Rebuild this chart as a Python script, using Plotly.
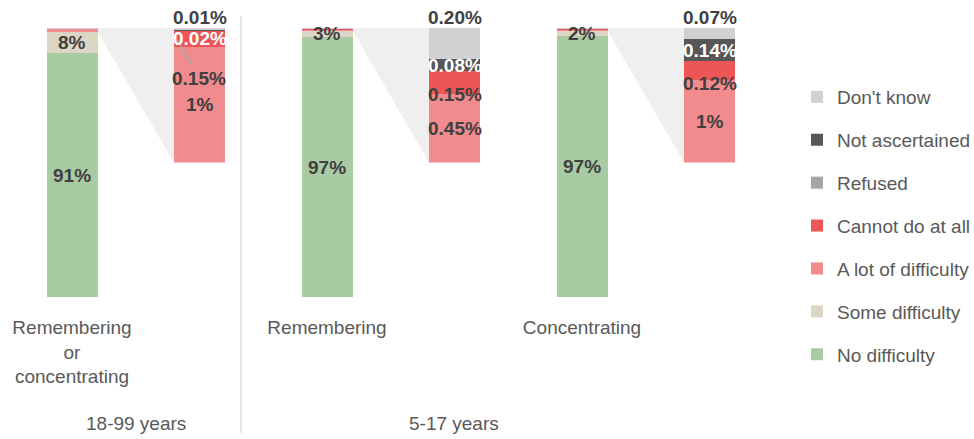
import plotly.graph_objects as go

# ---------------- data ----------------
categories = ["Remembering<br>or<br>concentrating", "Remembering", "Concentrating"]
age_groups = ["18-99 years", "5-17 years"]

no_difficulty = [90.7, 96.55, 96.9]
some_difficulty = [7.96, 2.6, 2.2]
a_lot = [1.10, 0.45, 0.52]
cannot_do = [0.15, 0.15, 0.12]
refused = [0.0, 0.0, 0.0]
not_ascertained = [0.02, 0.08, 0.14]
dont_know = [0.01, 0.20, 0.07]

series_names = ["No difficulty", "Some difficulty", "A lot of difficulty", "Cannot do at all",
                "Refused", "Not ascertained", "Don't know"]
series_values = [no_difficulty, some_difficulty, a_lot, cannot_do, refused, not_ascertained, dont_know]
colors = ["#A9CBA4", "#DCD6C4", "#F28B8D", "#EE5557", "#A6A6A6", "#575757", "#D0D1D3"]
small_idx = [2, 3, 4, 5, 6]  # series shown in the magnified bars
labelled_main = [0, 1]       # series labelled on the main bars

# ---------------- layout constants ----------------
W, H = 974, 439
BOLD = "Liberation Sans Narrow, Arial Narrow, Liberation Sans, Arial"
REG = "Liberation Sans, Arial"
LABEL_C = "#404040"
TEXT_C = "#595959"
BAR_W = 0.2
ZOOM_OFF = 0.5
MAIN_DOM = [(H - 297) / H, (H - 28) / H]
ZOOM_BASE = 50.0  # magnified bar starts halfway up the main axis
ZOOM_DOM = [MAIN_DOM[0] + (MAIN_DOM[1] - MAIN_DOM[0]) * ZOOM_BASE / 100, MAIN_DOM[1]]
LBL_SIZE = 19


def fmt(v):
    return f"{v:.0f}%" if v >= 0.5 else f"{v:.2f}%"


fig = go.Figure()
xs_main = list(range(len(categories)))
n_series = len(series_names)
ann = []

# main stacked bars
for k, (name, vals, col) in enumerate(zip(series_names, series_values, colors)):
    fig.add_trace(go.Bar(
        x=xs_main, y=vals, width=BAR_W, name=name, marker=dict(color=col, line=dict(width=0)),
        legendgroup=name, showlegend=True, legendrank=n_series - k,
        xaxis="x", yaxis="y", hoverinfo="name+y",
    ))

# labels on main bars (drawn above all segments)
for g in xs_main:
    cum = 0.0
    for k in range(n_series):
        v = series_values[k][g]
        if k in labelled_main:
            ann.append(dict(xref="x", yref="y", x=g, y=cum + v / 2, text=fmt(v), showarrow=False,
                            font=dict(family=BOLD, size=LBL_SIZE, weight="bold", color=LABEL_C)))
        cum += v

# magnified bars (one y axis each)
# label pixel shifts (positive = up) for crowded labels
shifts = {(0, 5): -8, (1, 3): -12, (1, 5): -1, (2, 3): -13}
for g in range(len(categories)):
    yax = f"y{g + 2}"
    total = sum(series_values[k][g] for k in small_idx)
    cum = 0.0
    for k in small_idx:
        v = series_values[k][g]
        fig.add_trace(go.Bar(
            x=[g + ZOOM_OFF], y=[v], width=BAR_W, name=series_names[k],
            marker=dict(color=colors[k], line=dict(width=0)), legendgroup=series_names[k],
            showlegend=False, xaxis="x", yaxis=yax, hoverinfo="name+y",
        ))
        if v > 0:
            base_ann = dict(xref="x", yref=yax, x=g + ZOOM_OFF, text=fmt(v), showarrow=False,
                            font=dict(family=BOLD, size=LBL_SIZE, weight="bold",
                                      color="white" if series_names[k] == "Not ascertained" else LABEL_C))
            if series_names[k] == "Don't know":
                base_ann.update(y=cum + v, yanchor="bottom", yshift=-2)
            elif g == 0 and series_names[k] == "Cannot do at all":
                base_ann.update(y=cum + v / 2, x=g + ZOOM_OFF - 0.088, showarrow=True, arrowhead=0,
                                arrowwidth=1.5, arrowcolor="#A6A6A6", ax=22, ay=39, standoff=0)
            else:
                base_ann.update(y=cum + v / 2, yshift=shifts.get((g, k), 0))
            ann.append(base_ann)
        cum += v
    fig.layout[f"yaxis{g + 2}"] = dict(domain=ZOOM_DOM, range=[0, total], anchor="x",
                                      visible=False, fixedrange=True)

# connector polygons
shapes = []
for g in range(len(categories)):
    lower = no_difficulty[g] + some_difficulty[g]
    x0 = g + BAR_W / 2
    x1 = g + ZOOM_OFF - BAR_W / 2
    shapes.append(dict(type="path", xref="x", yref="y", layer="below",
                       path=f"M{x0},100 L{x1},100 L{x1},{ZOOM_BASE} L{x0},{lower} Z",
                       fillcolor="#EFEFEF", line=dict(width=0)))
# separator between age groups
shapes.append(dict(type="line", xref="paper", yref="paper", x0=241 / W, x1=241 / W,
                   y0=1 - 433 / H, y1=1 - 16 / H, line=dict(color="#D9D9D9", width=1.2)))

# age group labels
for txt, xc in zip(age_groups, [136, 454]):
    ann.append(dict(xref="paper", yref="paper", x=xc / W, y=1 - 423 / H, text=txt, showarrow=False,
                    xanchor="center", yanchor="middle",
                    font=dict(family=REG, size=19, color=TEXT_C)))

x_center_px = 72
px_per_unit = 255
fig.update_layout(
    width=W, height=H, margin=dict(l=0, r=0, t=0, b=0, autoexpand=False),
    paper_bgcolor="white", plot_bgcolor="rgba(0,0,0,0)", barmode="stack", bargap=0,
    xaxis=dict(domain=[0, 1], range=[-x_center_px / px_per_unit, (W - x_center_px) / px_per_unit],
               tickvals=xs_main, ticktext=categories, showgrid=False, zeroline=False, showline=False,
               ticks="", ticklabelstandoff=17, tickfont=dict(family=REG, size=19, color=TEXT_C),
               anchor="y", fixedrange=True),
    yaxis=dict(domain=MAIN_DOM, range=[0, 100], visible=False, fixedrange=True),
    legend=dict(x=797 / W, xanchor="left", y=1 - 78 / H, yanchor="top", traceorder="grouped",
                tracegroupgap=15.2, font=dict(family=REG, size=19, color=TEXT_C),
                bgcolor="rgba(0,0,0,0)"),
    shapes=shapes, annotations=ann, showlegend=True,
)

fig.write_html("out.html")
